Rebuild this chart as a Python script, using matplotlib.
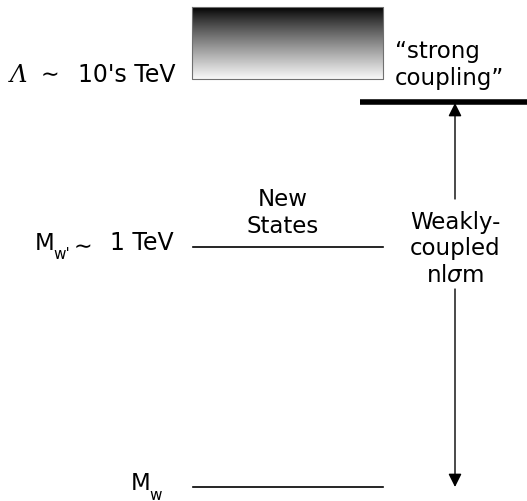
import numpy as np
import matplotlib
matplotlib.use("Agg")
import matplotlib.pyplot as plt

plt.rcParams['font.family'] = ['DejaVu Sans']
plt.rcParams['mathtext.fontset'] = 'dejavusans'

# scale diagram, coordinates in picture units (y grows downward)
level_sub = ["w", "w'"]
level_y = [488, 248]
level_x = [193, 383]

box_x = [192, 383]
box_y = [8, 80]
strong_y = 103
strong_x = [360, 527]
arrow_x = 455
arrow_gap = [200, 290]

fs = 16.5

fig = plt.figure(figsize=(5.27, 5.02), dpi=100)
ax = fig.add_axes([0, 0, 1, 1])
ax.set_xlim(0, 527)
ax.set_ylim(502, 0)
ax.axis('off')

# gradient box for cutoff
grad = np.linspace(0, 1, 200) ** 0.85
grad = grad[:, None] * np.ones((1, 10))
ax.imshow(grad, cmap='gray', vmin=0, vmax=1.03, aspect='auto',
          extent=[box_x[0], box_x[1], box_y[1], box_y[0]], zorder=1)
ax.plot([box_x[0], box_x[1], box_x[1], box_x[0], box_x[0]],
        [box_y[0], box_y[0], box_y[1], box_y[1], box_y[0]],
        color='#707070', lw=0.8, zorder=2)
ax.text(10, 82, "\u039b", fontsize=17.5, va='baseline', ha='left',
        fontfamily='DejaVu Serif', style='italic')
ax.text(41, 81, "\u223c", fontsize=16, va='baseline', ha='left')
ax.text(176, 82, "10's TeV", fontsize=17, va='baseline', ha='right')
ax.text(395, 85, "\u201cstrong\ncoupling\u201d", fontsize=fs, va='baseline',
        ha='left', linespacing=1.2)

# strong coupling line
ax.plot(strong_x, [strong_y, strong_y], color='black', lw=4, solid_capstyle='butt')

# mass levels
for y in level_y:
    ax.plot(level_x, [y, y], color='black', lw=1.2)

ax.text(35, 250, "M", fontsize=fs, va='baseline', ha='left')
ax.text(53, 259, level_sub[1], fontsize=11, va='baseline', ha='left')
ax.text(74, 253, "\u223c", fontsize=16, va='baseline', ha='left')
ax.text(174, 250, "1 TeV", fontsize=17, va='baseline', ha='right')

ax.text(131, 490, "M", fontsize=fs, va='baseline', ha='left')
ax.text(149, 500, level_sub[0], fontsize=11, va='baseline', ha='left')

ax.text(283, 233, "New\nStates", fontsize=fs, va='baseline', ha='center',
        multialignment='center', linespacing=1.2)

# weakly coupled arrow (broken by label)
ax.annotate("", xy=(arrow_x, strong_y + 1), xytext=(arrow_x, arrow_gap[0]),
            arrowprops=dict(arrowstyle='-|>', color='black', lw=1,
                            mutation_scale=20, shrinkA=0, shrinkB=0))
ax.annotate("", xy=(arrow_x, level_y[0]), xytext=(arrow_x, arrow_gap[1]),
            arrowprops=dict(arrowstyle='-|>', color='black', lw=1,
                            mutation_scale=20, shrinkA=0, shrinkB=0))
ax.text(arrow_x, 282, "Weakly-\ncoupled\nnl$\\mathit{\\sigma}$m", fontsize=fs,
        va='baseline', ha='center', multialignment='center', linespacing=1.2)

fig.savefig("out.png", dpi=100)
